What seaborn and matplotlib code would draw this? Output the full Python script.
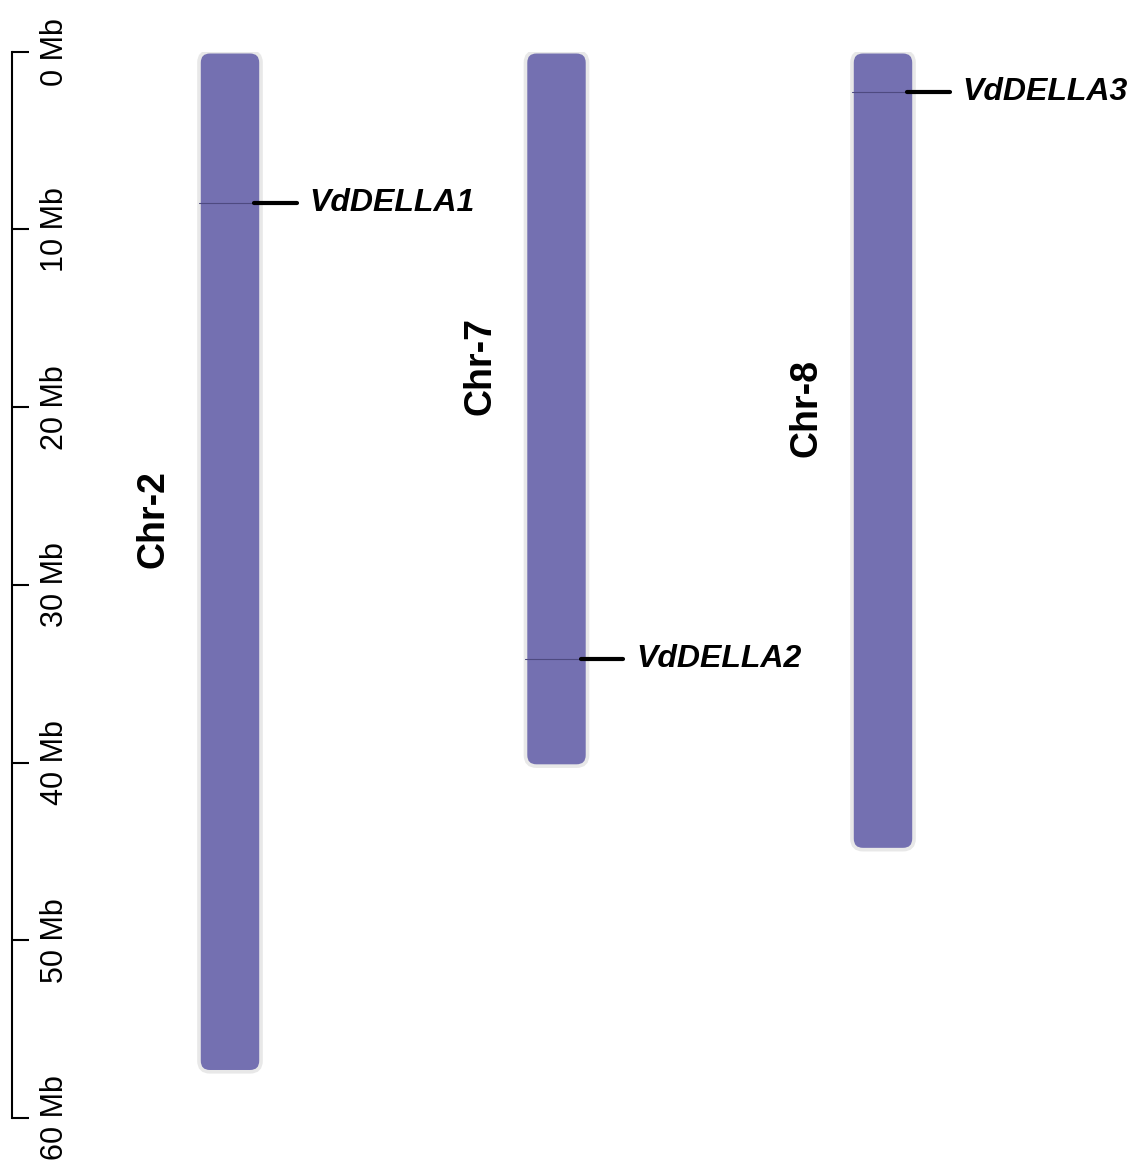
import seaborn as sns
import matplotlib.pyplot as plt
import pandas as pd
from matplotlib.patches import FancyBboxPatch

# chromosome sizes (Mb)
chroms = ['Chr-2', 'Chr-7', 'Chr-8']
chrom_len = [57.4, 40.2, 44.9]

# gene positions
genes = ['VdDELLA1', 'VdDELLA2', 'VdDELLA3']
gene_chrom = ['Chr-2', 'Chr-7', 'Chr-8']
gene_pos = [8.53, 34.17, 2.28]

yticks = [0, 10, 20, 30, 40, 50, 60]
ytick_labels = ['{} Mb'.format(t) for t in yticks]

sns.set_style('white')
plt.rcParams['font.family'] = ['Liberation Sans', 'DejaVu Sans']
plt.rcParams['text.color'] = 'black'
plt.rcParams['ytick.color'] = 'black'
plt.rcParams['ytick.labelcolor'] = 'black'

W, H = 1137, 1161
fig = plt.figure(figsize=(W / 100, H / 100), dpi=100)
# axes: left spine at x=12px, 0 Mb at y=51.7px, 60 Mb at y=1118px
ax = fig.add_axes([12 / W, 1 - 1118 / H, 1 - 12 / W, (1118 - 51.7) / H])

df = pd.DataFrame({'chrom': chroms, 'length': chrom_len})
sns.barplot(data=df, x='chrom', y='length', width=0.19, color='#7470b1',
            saturation=1, ax=ax)

# pixel scale: 326.5 px per chromosome slot, 17.78 px per Mb
px_x = 326.5
px_y = 17.78
ax.set_xlim(-218 / px_x, 2 + (1137 - 883) / px_x)
ax.set_ylim(60, 0)

# swap plain rectangles for rounded ones with a pale outline
asp = px_x / px_y
for p in list(ax.patches):
    x, y, w, h = p.get_x(), p.get_y(), p.get_width(), p.get_height()
    fc = p.get_facecolor()
    p.remove()
    r = 11 / px_x
    box = FancyBboxPatch((x, y), w, h,
                         boxstyle='round,pad=0,rounding_size={}'.format(r),
                         mutation_aspect=asp, facecolor=fc,
                         edgecolor='#e8e8e8', linewidth=2.6, zorder=2)
    ax.add_patch(box)

half_w = 0.19 / 2
for g, c, pos in zip(genes, gene_chrom, gene_pos):
    i = chroms.index(c)
    ax.plot([i - half_w, i + half_w], [pos, pos], color='#4e4a80',
            lw=0.8, zorder=3)
    ax.plot([i + 0.075, i + 0.205], [pos, pos], color='black', lw=3,
            solid_capstyle='round', zorder=4, clip_on=False)
    ax.text(i + 0.243, pos, g, fontsize=23, fontweight='bold',
            fontstyle='italic', va='center', ha='left', clip_on=False)

for i, (c, L) in enumerate(zip(chroms, chrom_len)):
    ax.text(i - 0.234, L / 2 - 2.4, c, fontsize=27, fontweight='bold',
            rotation=90, ha='center', va='center')

# ruler on the left
for s in ['top', 'right', 'bottom']:
    ax.spines[s].set_visible(False)
ax.spines['left'].set_linewidth(1.5)
ax.spines['left'].set_color('black')
ax.set_xticks([])
ax.set_xlabel('')
ax.set_ylabel('')
ax.set_yticks(yticks)
ax.set_yticklabels(ytick_labels)
ax.tick_params(axis='y', direction='in', length=12, width=1.5,
               labelsize=22, labelrotation=90, pad=-20, left=True)
for lbl in ax.get_yticklabels():
    lbl.set_ha('left')
    lbl.set_va('center')

fig.savefig('out.png', dpi=100)
